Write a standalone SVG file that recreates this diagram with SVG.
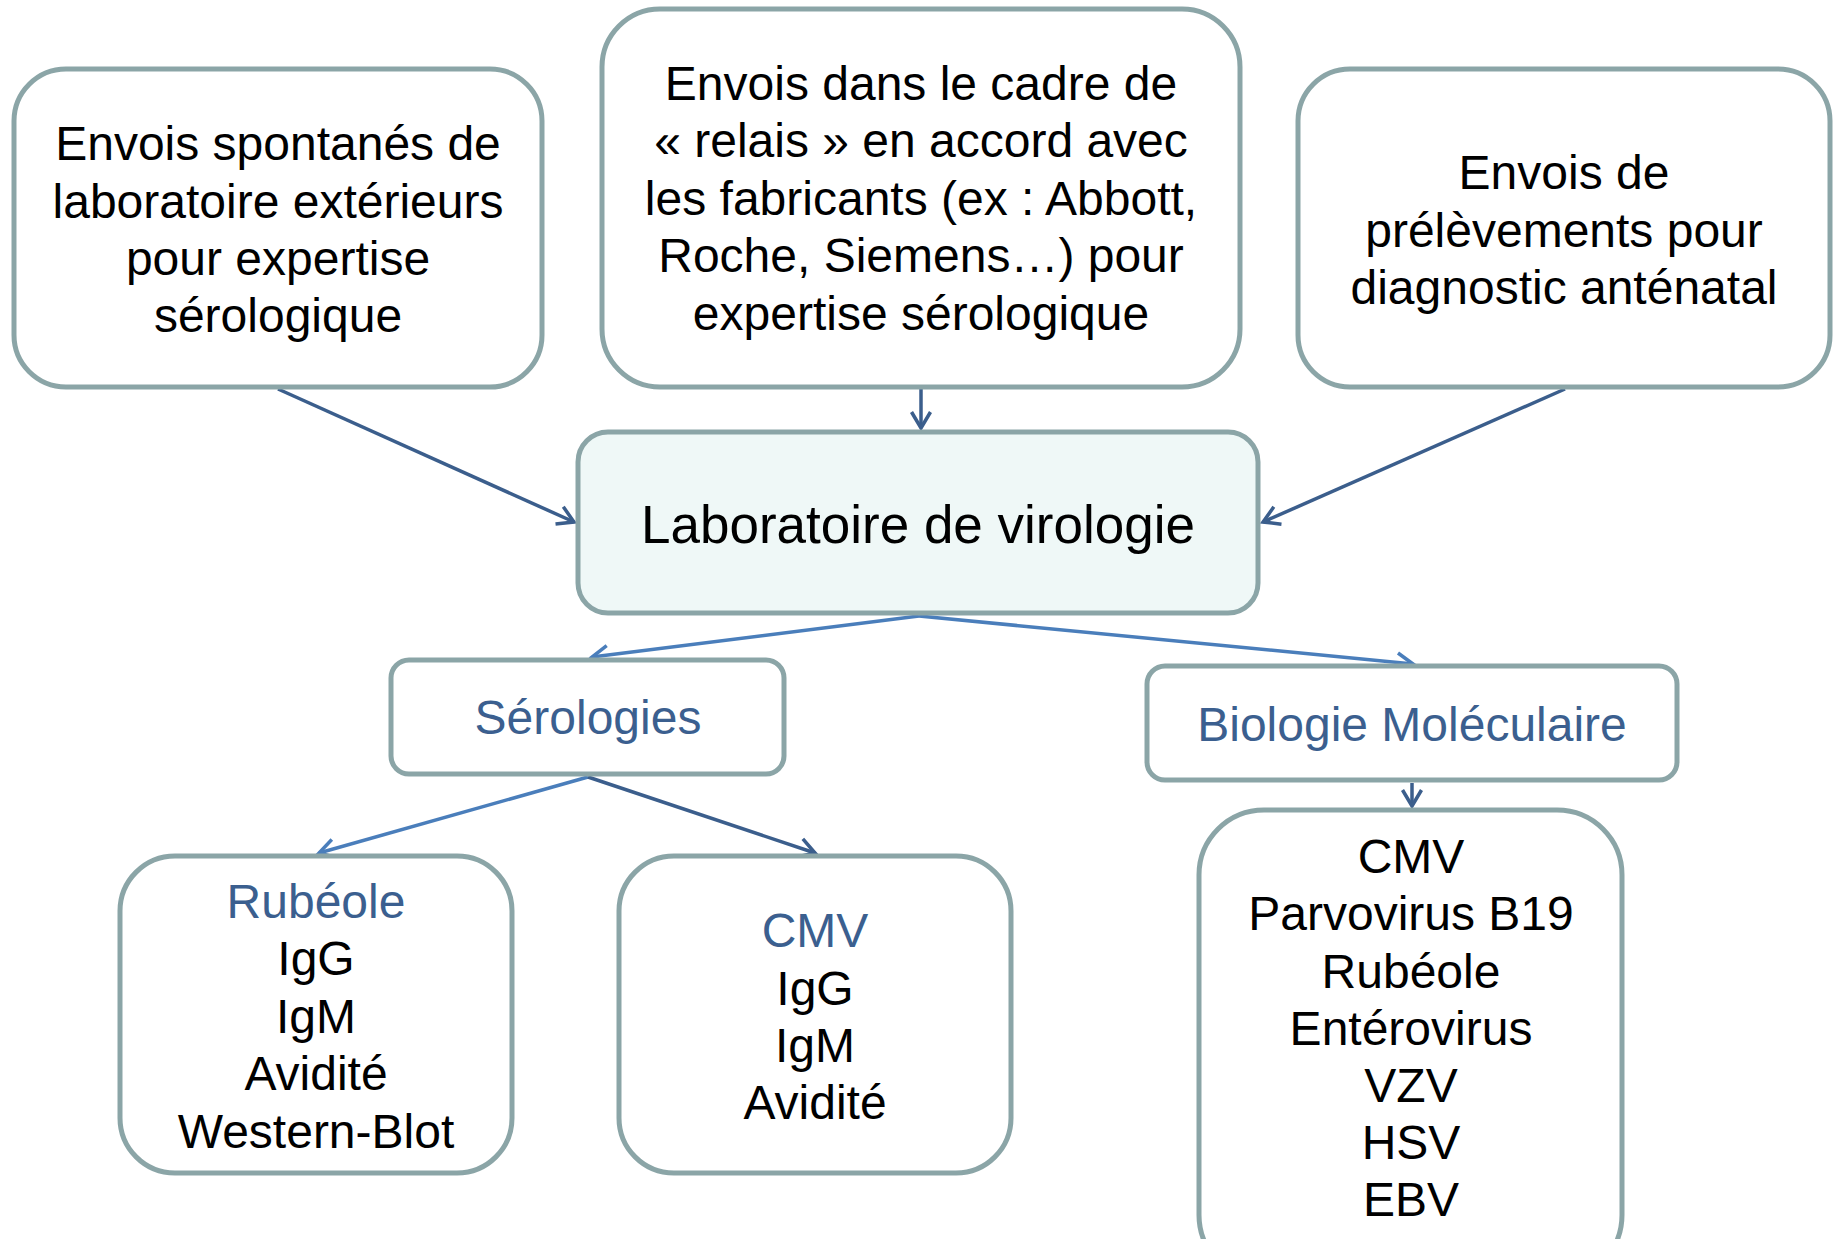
<svg xmlns="http://www.w3.org/2000/svg" width="1837" height="1239" viewBox="0 0 1837 1239">
<style>
.box{fill:#ffffff;stroke:#8ba5a7;stroke-width:5}
.lab{fill:#eff8f7;stroke:#8ba5a7;stroke-width:5}
text{font-family:"Liberation Sans",Arial,sans-serif;font-size:48px;fill:#000;text-anchor:middle}
.blue{fill:#3b5f8f}
.dk{stroke:#3b5e8c;stroke-width:3.5;fill:none}
.lt{stroke:#4a7ebb;stroke-width:3.5;fill:none}
</style>
<defs>
<marker id="ad" markerUnits="userSpaceOnUse" markerWidth="24" markerHeight="24" viewBox="0 0 24 24" refX="20" refY="12" orient="auto" overflow="visible">
<path d="M4,2.5 L20,12 L4,21.5" fill="none" stroke="#3b5e8c" stroke-width="3.5"/>
</marker>
<marker id="al" markerUnits="userSpaceOnUse" markerWidth="24" markerHeight="24" viewBox="0 0 24 24" refX="20" refY="12" orient="auto" overflow="visible">
<path d="M4,2.5 L20,12 L4,21.5" fill="none" stroke="#4a7ebb" stroke-width="3.5"/>
</marker>
</defs>
<rect width="1837" height="1239" fill="#fff"/>
<g id="connectors">
<line class="dk" x1="278" y1="389" x2="574" y2="522" marker-end="url(#ad)"/>
<line class="dk" x1="921" y1="389" x2="921" y2="428" marker-end="url(#ad)"/>
<line class="dk" x1="1565" y1="389" x2="1263" y2="522" marker-end="url(#ad)"/>
<line class="lt" x1="919" y1="616" x2="592" y2="657" marker-end="url(#al)"/>
<line class="lt" x1="919" y1="616" x2="1413" y2="664" marker-end="url(#al)"/>
<line class="lt" x1="588" y1="777" x2="319" y2="853" marker-end="url(#al)"/>
<line class="dk" x1="588" y1="777" x2="815" y2="853" marker-end="url(#ad)"/>
<line class="dk" x1="1412" y1="783" x2="1412" y2="806" marker-end="url(#ad)"/>
</g>
<g id="n1">
<rect class="box" x="14" y="69" width="528" height="318" rx="52"/>
<text x="278" y="160">Envois spontanés de</text>
<text x="278" y="218">laboratoire extérieurs</text>
<text x="278" y="275">pour expertise</text>
<text x="278" y="332">sérologique</text>
</g>
<g id="n2">
<rect class="box" x="602" y="9" width="638" height="378" rx="58"/>
<text x="921" y="100">Envois dans le cadre de</text>
<text x="921" y="157">« relais » en accord avec</text>
<text x="921" y="215">les fabricants (ex : Abbott,</text>
<text x="921" y="272">Roche, Siemens…) pour</text>
<text x="921" y="330">expertise sérologique</text>
</g>
<g id="n3">
<rect class="box" x="1298" y="69" width="532" height="318" rx="52"/>
<text x="1564" y="189">Envois de</text>
<text x="1564" y="247">prélèvements pour</text>
<text x="1564" y="304">diagnostic anténatal</text>
</g>
<g id="lab">
<rect class="lab" x="578" y="432" width="680" height="181" rx="30"/>
<text x="918" y="543" style="font-size:53px">Laboratoire de virologie</text>
</g>
<g id="sero">
<rect class="box" x="391" y="660" width="393" height="114" rx="18"/>
<text class="blue" x="588" y="734">Sérologies</text>
</g>
<g id="bio">
<rect class="box" x="1147" y="666" width="530" height="114" rx="18"/>
<text class="blue" x="1412" y="741">Biologie Moléculaire</text>
</g>
<g id="rub">
<rect class="box" x="120" y="856" width="392" height="317" rx="55"/>
<text class="blue" x="316" y="918">Rubéole</text>
<text x="316" y="975">IgG</text>
<text x="316" y="1033">IgM</text>
<text x="316" y="1090">Avidité</text>
<text x="316" y="1148">Western-Blot</text>
</g>
<g id="cmv">
<rect class="box" x="619" y="856" width="392" height="317" rx="55"/>
<text class="blue" x="815" y="947">CMV</text>
<text x="815" y="1005">IgG</text>
<text x="815" y="1062">IgM</text>
<text x="815" y="1119">Avidité</text>
</g>
<g id="mol">
<rect class="box" x="1199" y="810" width="423" height="470" rx="65"/>
<text x="1411" y="873">CMV</text>
<text x="1411" y="930">Parvovirus B19</text>
<text x="1411" y="988">Rubéole</text>
<text x="1411" y="1045">Entérovirus</text>
<text x="1411" y="1102">VZV</text>
<text x="1411" y="1159">HSV</text>
<text x="1411" y="1216">EBV</text>
</g>
</svg>
